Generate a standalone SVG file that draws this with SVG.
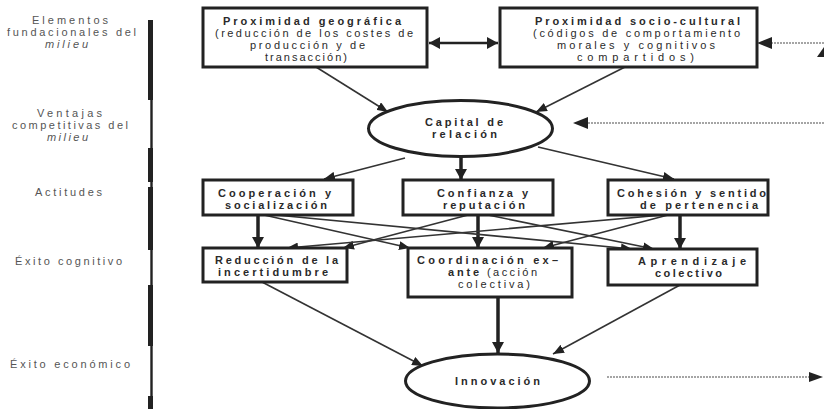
<svg xmlns="http://www.w3.org/2000/svg" width="824" height="409" viewBox="0 0 824 409">
  <defs>
    <marker id="head" markerUnits="userSpaceOnUse" markerWidth="11" markerHeight="9" refX="11" refY="4.5" orient="auto">
      <path d="M0,0 L11,4.5 L0,9 z" fill="#222"/>
    </marker>
    <marker id="headBig" markerUnits="userSpaceOnUse" markerWidth="12" markerHeight="12" refX="11" refY="6" orient="auto">
      <path d="M0,0 L11,6 L0,12 z" fill="#222"/>
    </marker>
    <marker id="headBigStart" markerUnits="userSpaceOnUse" markerWidth="12" markerHeight="12" refX="0" refY="6" orient="auto">
      <path d="M11,0 L0,6 L11,12 z" fill="#222"/>
    </marker>
  </defs>
  <style>
    text { font-family: "Liberation Sans", Arial, sans-serif; font-size: 11px; fill: #2a2a2a; }
    .b { font-weight: bold; }
    .lbl { fill: #555; }
    .it { font-style: italic; }
    .box { fill: #fff; stroke: #222; stroke-width: 3; }
    .ell { fill: #fff; stroke: #222; stroke-width: 3; }
    .thin { stroke: #333; stroke-width: 1.6; fill: none; marker-end: url(#head); }
    .thick { stroke: #222; stroke-width: 3.5; fill: none; marker-end: url(#headBig); }
    .dot { stroke: #888; stroke-width: 1.3; stroke-dasharray: 2 1; fill: none; }
  </style>

  <!-- level labels -->
  <g id="labels">
    <text class="lbl" x="32" y="24" textLength="76">Elementos</text>
    <text class="lbl" x="7" y="36" textLength="129">fundacionales del</text>
    <text class="lbl it" x="45" y="48" textLength="43">milieu</text>
    <text class="lbl" x="37" y="117" textLength="65">Ventajas</text>
    <text class="lbl" x="12" y="129" textLength="116">competitivas del</text>
    <text class="lbl it" x="47" y="141" textLength="41">milieu</text>
    <text class="lbl" x="35" y="196" textLength="67">Actitudes</text>
    <text class="lbl" x="15" y="265" textLength="107">Éxito cognitivo</text>
    <text class="lbl" x="10" y="368" textLength="120">Éxito económico</text>
  </g>

  <!-- vertical separator bar -->
  <g id="separator" fill="#222">
    <rect x="150.3" y="20" width="2.4" height="389"/>
    <rect x="148" y="20" width="5" height="80"/>
    <rect x="148" y="148" width="5" height="34"/>
    <rect x="148" y="187" width="5" height="63"/>
    <rect x="148" y="285" width="5" height="61"/>
    <rect x="148" y="396" width="5" height="13"/>
  </g>

  <!-- connectors -->
  <g id="connectors">
    <line x1="429" y1="43" x2="498" y2="43" stroke="#222" stroke-width="2.5" marker-start="url(#headBigStart)" marker-end="url(#headBig)"/>
    <line class="dot" x1="824" y1="43" x2="772" y2="43"/>
    <polygon points="757,43 772,37 772,49" fill="#222"/>
    <polygon points="824,47 817,57 824,57" fill="#222"/>

    <line class="thin" x1="316" y1="67" x2="388" y2="112"/>
    <line class="thin" x1="625" y1="67" x2="536" y2="112"/>

    <line class="dot" x1="824" y1="123" x2="588" y2="123"/>
    <polygon points="573,123 588,117 588,129" fill="#222"/>

    <line class="thin" x1="405" y1="158" x2="324" y2="179"/>
    <line class="thick" x1="461" y1="157" x2="461" y2="180"/>
    <line class="thin" x1="538" y1="147" x2="674" y2="179"/>

    <line class="thick" x1="258" y1="215" x2="258" y2="248"/>
    <line class="thick" x1="478" y1="215" x2="478" y2="248"/>
    <line class="thick" x1="680" y1="215" x2="680" y2="249"/>

    <line class="thin" x1="264" y1="215" x2="410" y2="248"/>
    <line class="thin" x1="276" y1="215" x2="632" y2="249"/>
    <line class="thin" x1="468" y1="215" x2="343" y2="248"/>
    <line class="thin" x1="488" y1="215" x2="654" y2="249"/>
    <line class="thin" x1="663" y1="215" x2="287" y2="248"/>
    <line class="thin" x1="668" y1="215" x2="543" y2="248"/>

    <line class="thin" x1="262" y1="282" x2="423" y2="366"/>
    <line class="thick" x1="498" y1="297" x2="498" y2="353"/>
    <line class="thin" x1="680" y1="285" x2="553" y2="354"/>

    <line class="dot" x1="607" y1="377" x2="810" y2="377"/>
    <polygon points="823,377 809,372 809,382" fill="#222"/>
  </g>

  <!-- top level -->
  <g id="prox-geo">
    <rect class="box" x="203" y="8" width="224" height="59"/>
    <text class="b" x="223" y="25" textLength="178">Proximidad geográfica</text>
    <text x="215" y="37" textLength="198">(reducción de los costes de</text>
    <text x="250" y="49" textLength="115">producción y de</text>
    <text x="265" y="61" textLength="82">transacción)</text>
  </g>
  <g id="prox-socio">
    <rect class="box" x="500" y="8" width="257" height="59"/>
    <text class="b" x="535" y="25" textLength="205">Proximidad socio-cultural</text>
    <text x="533" y="37" textLength="207">(códigos de comportamiento</text>
    <text x="557" y="49" textLength="158">morales y cognitivos</text>
    <text x="577" y="61" textLength="117">compartidos)</text>
  </g>

  <g id="capital">
    <ellipse class="ell" cx="460.5" cy="128.5" rx="92" ry="28"/>
    <text class="b" x="425" y="126" textLength="78">Capital de</text>
    <text class="b" x="432" y="138" textLength="65">relación</text>
  </g>

  <!-- attitudes -->
  <g id="cooperacion">
    <rect class="box" x="203" y="180" width="150" height="35"/>
    <text class="b" x="218" y="197" textLength="113">Cooperación y</text>
    <text class="b" x="225" y="209" textLength="102">socialización</text>
  </g>
  <g id="confianza">
    <rect class="box" x="403" y="180" width="150" height="35"/>
    <text class="b" x="437" y="197" textLength="91">Confianza y</text>
    <text class="b" x="443" y="209" textLength="82">reputación</text>
  </g>
  <g id="cohesion">
    <rect class="box" x="608" y="180" width="160" height="35"/>
    <text class="b" x="617" y="197" textLength="149">Cohesión y sentido</text>
    <text class="b" x="640" y="209" textLength="118">de pertenencia</text>
  </g>

  <!-- cognitive success -->
  <g id="reduccion">
    <rect class="box" x="203" y="248" width="144" height="34"/>
    <text class="b" x="215" y="264" textLength="123">Reducción de la</text>
    <text class="b" x="218" y="276" textLength="110">incertidumbre</text>
  </g>
  <g id="coordinacion">
    <rect class="box" x="408" y="248" width="164" height="49"/>
    <text class="b" x="417" y="264" textLength="141">Coordinación ex–</text>
    <text class="b" x="448" y="276" textLength="31">ante</text>
    <text x="487" y="276" textLength="50">(acción</text>
    <text x="458" y="288" textLength="72">colectiva)</text>
  </g>
  <g id="aprendizaje">
    <rect class="box" x="608" y="249" width="149" height="36"/>
    <text class="b" x="638" y="265" textLength="108">Aprendizaje</text>
    <text class="b" x="655" y="277" textLength="67">colectivo</text>
  </g>

  <!-- economic success -->
  <g id="innovacion">
    <ellipse class="ell" cx="497.5" cy="381" rx="92" ry="27"/>
    <text class="b" x="455" y="385" textLength="85">Innovación</text>
  </g>
</svg>
